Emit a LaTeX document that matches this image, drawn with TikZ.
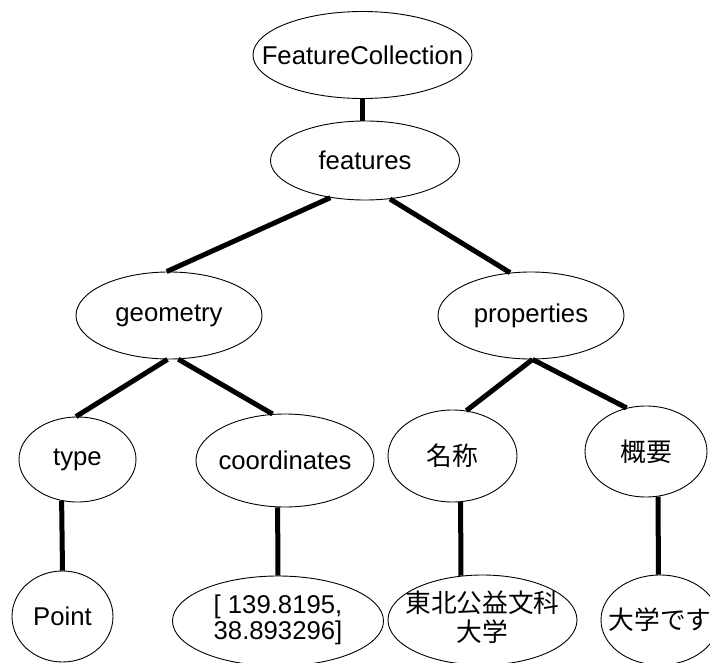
\documentclass[tikz,border=0pt]{standalone}
\usepackage{fontspec}
\setmainfont{Liberation Sans}
\newfontfamily\jpfont{Noto Sans CJK JP}
\usetikzlibrary{shapes.geometric}
\newcommand{\nowidth}[1]{\makebox[0pt]{#1}}

\begin{document}
\begin{tikzpicture}[x=1pt, y=-1pt]

        \tikzstyle{ovalnode} = [draw, ellipse, inner sep=0, line width=0.9pt, font=\fontsize{25.7}{26}\selectfont];
        \tikzstyle{branch} = [line width=5pt];

        \useasboundingbox (0,0) rectangle (710,663);

        % Top
        \node[ovalnode, minimum width=219pt, minimum height=87pt] (FC) at (362.5,55) {\nowidth{FeatureCollection}};
        \node[ovalnode, minimum width=189pt, minimum height=79pt] (FT) at (365,160.5) {\nowidth{features}};
        \draw [branch] (FC.south) -- (FC.south |- FT.north);

        % Left - geometry
        \node[ovalnode, minimum width=186pt, minimum height=87pt] (GE) at (169,315.5) {\nowidth{geometry}};
        \node[ovalnode, minimum width=117pt, minimum height=85pt] (TY) at (77.5,459.5) {\nowidth{type}};
        \node[ovalnode, minimum width=178pt, minimum height=93pt] (CO) at (285,460.5) {\nowidth{coordinates}};
        \node[ovalnode, minimum width=101pt, minimum height=91pt] (PT) at (62.5,616.5) {\nowidth{Point}};
        \node[ovalnode, minimum width=211pt, minimum height=90pt] (CV) at (278,621) {\nowidth{\begin{tabular}{@{}c@{}}[ 139.8195,\\38.893296]\end{tabular}}};

        \draw [branch] (FT.-133) -- (GE.93);
        \draw [branch] (GE.-92) -- (TY.92);
        \draw [branch] (GE.-78) -- (CO.105);
        \draw [branch] (TY.-111) -- (PT.90);
        \draw [branch] (CO.-99) -- (CV.90);
        % Left - geometry

        % Right - properties
        \node[ovalnode, minimum width=186pt, minimum height=87pt] (PR) at (531,315.5) {\nowidth{properties}};
        \node[ovalnode, minimum width=129pt, minimum height=92pt] (NA) at (452.5,456) {\nowidth{\jpfont 名称}};
        \node[ovalnode, minimum width=122pt, minimum height=91pt] (OV) at (646,451.5) {\nowidth{\jpfont 概要}};
        \node[ovalnode, minimum width=189pt, minimum height=90pt] (NV) at (482.5,620) {\nowidth{\jpfont\begin{tabular}{@{}c@{}}東北公益文科\\大学\end{tabular}}};
        \node[ovalnode, minimum width=118pt, minimum height=90pt] (OVV) at (660,620) {\nowidth{\jpfont 大学です}};

        \draw [branch] (FT.-57) -- (PR.116);
        \draw [branch] (PR.-88) -- (NA.73);
        \draw [branch] (PR.-88) -- (OV.114);
        \draw [branch] (NA.-80) -- (NV.116);
        \draw [branch] (OV.-75) -- (OVV.92);
        % Right - properties

\end{tikzpicture}
\end{document}
